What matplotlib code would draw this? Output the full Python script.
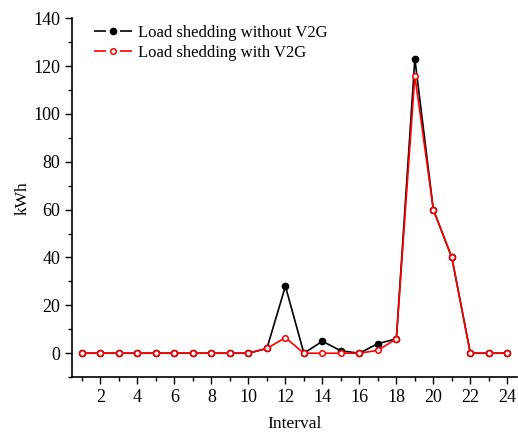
import matplotlib

matplotlib.use("Agg")
import matplotlib.pyplot as plt  # noqa: E402
from matplotlib.lines import Line2D  # noqa: E402
from matplotlib.ticker import MultipleLocator  # noqa: E402

intervals = list(range(1, 25))
without_v2g = [0, 0, 0, 0, 0, 0, 0, 0, 0, 0, 2, 28, 0, 5, 1, 0, 4, 6, 123, 60, 40, 0, 0, 0]
with_v2g = [0, 0, 0, 0, 0, 0, 0, 0, 0, 0, 2, 6.5, 0, 0, 0, 0, 1.2, 6, 116, 60, 40, 0, 0, 0]

plt.rcParams["font.family"] = ["Liberation Serif", "DejaVu Serif"]
plt.rcParams["font.size"] = 12

fig = plt.figure(figsize=(5.18, 4.33), dpi=100)
ax = fig.add_axes([0.139, 0.129, 0.86, 0.829])

black_style = dict(color="black", lw=1.2, marker="o", ms=4.5)
red_style = dict(color="red", lw=1.2, marker="o", ms=4, mfc="white", mec="red", mew=1.1)

ax.plot(intervals, without_v2g, **black_style)
ax.plot(intervals, with_v2g, **red_style)

ax.set_xlim(0.46, 24.55)
ax.set_ylim(-10, 140)
ax.xaxis.set_major_locator(MultipleLocator(2))
ax.xaxis.set_minor_locator(MultipleLocator(1))
ax.yaxis.set_major_locator(MultipleLocator(20))
ax.yaxis.set_minor_locator(MultipleLocator(10))
ax.tick_params(which="major", direction="out", length=5, width=1, labelsize=13)
ax.tick_params(which="minor", direction="out", length=3, width=1)
for side in ("top", "right"):
    ax.spines[side].set_visible(False)
for side in ("left", "bottom"):
    ax.spines[side].set_linewidth(1.2)

ax.set_xlabel("Interval", fontsize=12.5, labelpad=7)
ax.set_ylabel("kWh", fontsize=12.5, labelpad=2)

# legend handles with the line broken around the marker
gap = (0, (7.2, 8.4))
handles = [
    Line2D([], [], ls=gap, **black_style),
    Line2D([], [], ls=gap, **red_style),
]
ax.legend(handles, ["Load shedding without V2G", "Load shedding with V2G"],
          loc="upper left", frameon=False, fontsize=12, handlelength=2.3,
          borderaxespad=0.0, handletextpad=0.3, labelspacing=0.25,
          bbox_to_anchor=(0.035, 1.0))

fig.savefig("out.png", dpi=100)
